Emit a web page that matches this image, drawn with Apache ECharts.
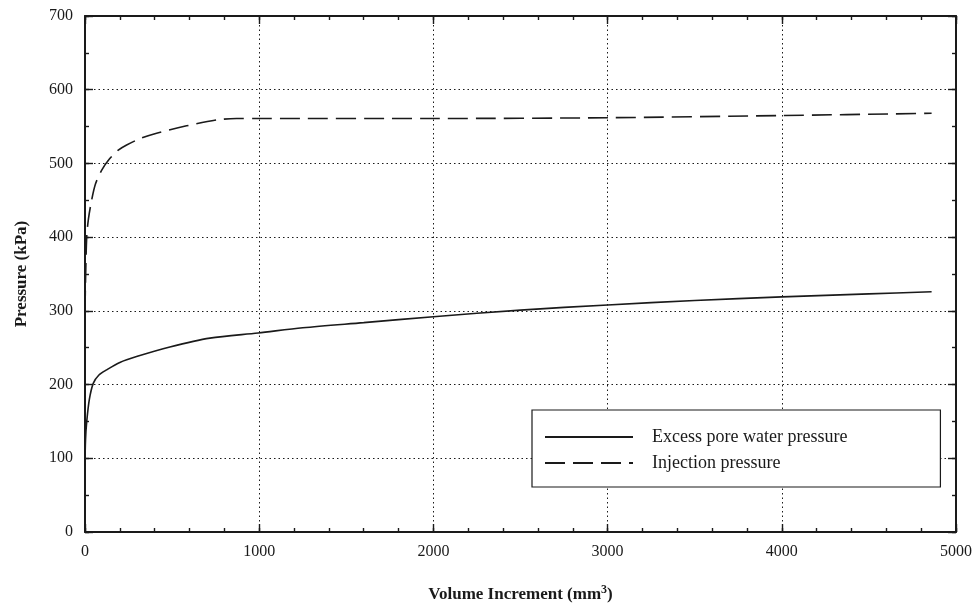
<!DOCTYPE html>
<html>
<head>
<meta charset="utf-8">
<script src="https://cdn.jsdelivr.net/npm/echarts@6/dist/echarts.min.js"></script>
<style>
  html, body { margin: 0; padding: 0; background: #fff; }
  #chart { width: 975px; height: 609px; }
</style>
</head>
<body>
<div id="chart"></div>
<script>
/** 数据 */
var excessX = [0, 3, 10, 25, 48, 80, 124, 200, 296, 487, 717, 994, 1250, 1600, 2000, 2500, 3000, 3500, 4000, 4500, 4860];
var excessY = [90, 125, 150, 180, 202, 213, 220, 230, 238, 251, 263, 270, 277, 284, 292, 301, 308, 314, 319, 323, 326];
var injectX = [0, 3, 10, 20, 38, 60, 96, 140, 191, 239, 320, 411, 583, 755, 870, 1000, 2000, 3000, 4000, 4860];
var injectY = [300, 340, 401, 425, 450, 472, 491, 506, 518, 525, 534, 541, 551, 559, 561, 561, 561, 562, 565, 568];
var seriesNames = ['Excess pore water pressure', 'Injection pressure'];

/** 可配置变量 */
var font = 'Liberation Serif';
var black = '#1a1a1a';

var pairs = function(xs, ys) {
    var out = [];
    for (var i = 0; i < xs.length; i++) out.push([xs[i], ys[i]]);
    return out;
};

var myChart = echarts.init(document.getElementById('chart'));

/** 坐标轴构造：主刻度/次刻度，四边都画 */
var frameAxis = function(pos, max, step, len, showLine) {
    return {
        type: 'value', position: pos, min: 0, max: max, interval: step,
        axisLine: { show: showLine, onZero: false, lineStyle: { color: black, width: 2 } },
        axisTick: { show: true, inside: true, length: len, lineStyle: { color: black, width: 1.4 } },
        axisLabel: { show: false },
        splitLine: { show: false }
    };
};

var xMain = frameAxis('bottom', 5000, 1000, 8, true);
xMain.axisLabel = { show: true, fontFamily: font, fontSize: 16, color: black, margin: 12,
    formatter: function(v) { return String(v); } };
xMain.splitLine = { show: true, lineStyle: { color: black, type: [1.5, 3], width: 1 } };
xMain.name = 'Volume Increment (mm{sup|3})';
xMain.nameLocation = 'middle';
xMain.nameGap = 52;
xMain.nameTextStyle = {
    fontFamily: font, fontSize: 17, fontWeight: 'bold', color: black,
    rich: { sup: { fontFamily: font, fontSize: 12, fontWeight: 'bold', color: black, verticalAlign: 'top', padding: [0, 0, 9, 0] } }
};

var yMain = frameAxis('left', 700, 100, 8, true);
yMain.axisLabel = { show: true, fontFamily: font, fontSize: 16, color: black, margin: 12 };
yMain.splitLine = { show: true, lineStyle: { color: black, type: [1.5, 3], width: 1 } };
yMain.name = 'Pressure (kPa)';
yMain.nameLocation = 'middle';
yMain.nameGap = 55;
yMain.nameTextStyle = { fontFamily: font, fontSize: 17, fontWeight: 'bold', color: black };

var option = {
    animation: false,
    backgroundColor: '#fff',
    grid: { left: 85, right: 18, top: 16, bottom: 77 },
    legend: {
        orient: 'vertical',
        left: 532,
        top: 410,
        padding: [18, 93, 15, 12],
        itemGap: 8,
        itemWidth: 88,
        itemHeight: 14,
        borderColor: black,
        borderWidth: 1.2,
        backgroundColor: '#fff',
        itemStyle: { opacity: 0 },
        data: seriesNames,
        textStyle: { fontFamily: font, fontSize: 18, color: black, padding: [0, 0, 0, 14] }
    },
    xAxis: [
        xMain,
        frameAxis('top', 5000, 1000, 8, true),
        frameAxis('bottom', 5000, 200, 4, false),
        frameAxis('top', 5000, 200, 4, false)
    ],
    yAxis: [
        yMain,
        frameAxis('right', 700, 100, 8, true),
        frameAxis('left', 700, 50, 4, false),
        frameAxis('right', 700, 50, 4, false)
    ],
    series: [
        {
            name: seriesNames[0], type: 'line', xAxisIndex: 0, yAxisIndex: 0,
            data: pairs(excessX, excessY), smooth: 0.3, symbol: 'none',
            itemStyle: { color: black },
            lineStyle: { color: black, width: 1.6, type: 'solid' }
        },
        {
            name: seriesNames[1], type: 'line', xAxisIndex: 0, yAxisIndex: 0,
            data: pairs(injectX, injectY), smooth: 0.3, symbol: 'none',
            itemStyle: { color: black },
            lineStyle: { color: black, width: 1.6, type: [20, 8] }
        }
    ]
};

myChart.setOption(option);
</script>
</body>
</html>
